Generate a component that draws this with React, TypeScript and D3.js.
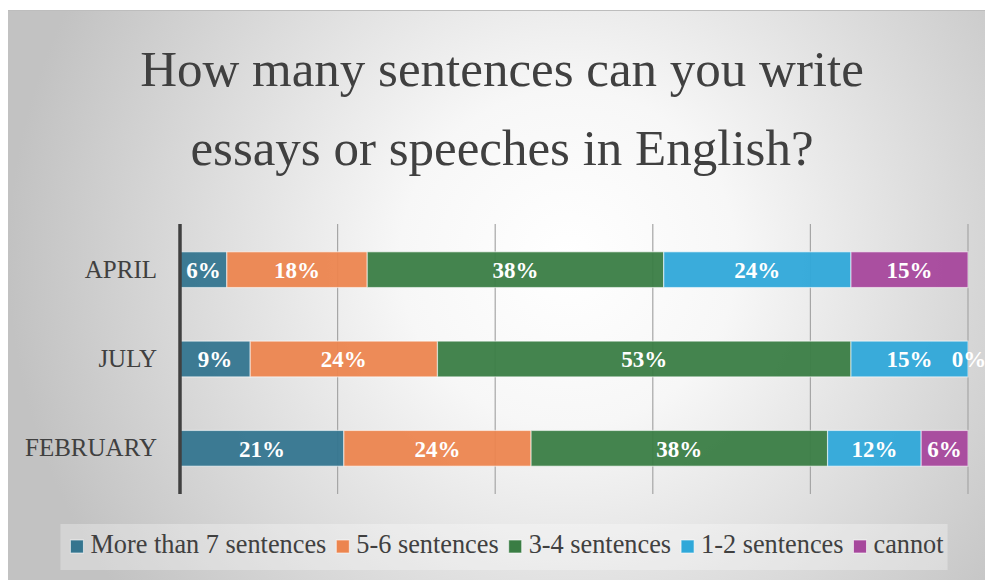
import React from "react";
import * as d3 from "d3";

// survey months, top to bottom
const months = ["APRIL", "JULY", "FEBRUARY"];
const seriesNames = ["More than 7 sentences", "5-6 sentences", "3-4 sentences", "1-2 sentences", "cannot"];
const seriesColors = ["#34758f", "#ec854f", "#3a7d44", "#2fa8d9", "#a6479c"];

// percentages as printed on the bars (rows follow months)
const moreThan7 = [6, 9, 21];
const fiveToSix = [18, 24, 24];
const threeToFour = [38, 53, 38];
const oneToTwo = [24, 15, 12];
const cannot = [15, 0, 6];

const titleLines = ["How many sentences can you write", "essays or speeches in English?"];
const gridTicks = [0, 0.2, 0.4, 0.6, 0.8, 1];

const W = 985;
const H = 580;
const FONT = "'Liberation Serif', 'Times New Roman', serif";

export default function App() {
  const svgRef = React.useRef<SVGSVGElement>(null);

  React.useEffect(() => {
    const cols = [moreThan7, fiveToSix, threeToFour, oneToTwo, cannot];
    const rows = months.map((m, i) => {
      const r: any = { month: m };
      seriesNames.forEach((s, j) => (r[s] = cols[j][i]));
      return r;
    });

    const stacked = d3.stack().keys(seriesNames).offset(d3.stackOffsetExpand)(rows);

    const x = d3.scaleLinear().domain([0, 1]).range([180, 968]);
    const y = d3.scaleBand().domain(months).range([225, 493]).paddingInner(0.6).paddingOuter(0.3);
    const color = d3.scaleOrdinal<string>().domain(seriesNames).range(seriesColors);

    const svgEl = d3.select(svgRef.current);
    svgEl.selectAll("*").remove();

    // background
    const defs = svgEl.append("defs");
    const grad = defs.append("radialGradient").attr("id", "bg")
      .attr("gradientUnits", "userSpaceOnUse")
      .attr("cx", 568).attr("cy", 258).attr("r", 560);
    grad.append("stop").attr("offset", "0%").attr("stop-color", "#ffffff");
    grad.append("stop").attr("offset", "30%").attr("stop-color", "#f7f7f7");
    grad.append("stop").attr("offset", "100%").attr("stop-color", "#c2c2c2");

    svgEl.append("rect").attr("x", 0).attr("y", 0).attr("width", W).attr("height", H).attr("fill", "#ffffff");
    svgEl.append("rect").attr("x", 8).attr("y", 10).attr("width", W - 8).attr("height", H - 10)
      .attr("fill", "url(#bg)");
    svgEl.append("line").attr("x1", 8).attr("x2", W).attr("y1", 10.5).attr("y2", 10.5)
      .attr("stroke", "#bdbdbd").attr("stroke-width", 1);

    // title
    svgEl.append("g").selectAll("text").data(titleLines).enter().append("text")
      .attr("x", 502)
      .attr("y", (d, i) => 86 + i * 79)
      .attr("text-anchor", "middle")
      .attr("font-family", FONT)
      .attr("font-size", 51)
      .attr("fill", "#404040")
      .text((d) => d);

    // gridlines
    svgEl.append("g").selectAll("line").data(gridTicks.slice(1)).enter().append("line")
      .attr("x1", (d) => x(d)).attr("x2", (d) => x(d))
      .attr("y1", 224).attr("y2", 494)
      .attr("stroke", "#a6a6a6").attr("stroke-width", 1.2);

    // bars
    const layers = svgEl.append("g").selectAll("g").data(stacked).enter().append("g")
      .attr("fill", (d) => color(d.key));

    layers.selectAll("rect").data((d) => d).enter().append("rect")
      .attr("x", (d) => x(d[0]))
      .attr("y", (d: any) => y(d.data.month)!)
      .attr("width", (d) => Math.max(0, x(d[1]) - x(d[0])))
      .attr("height", y.bandwidth())
      .attr("fill-opacity", 0.95)
      .attr("stroke", "#ffffff")
      .attr("stroke-opacity", 0.55)
      .attr("stroke-width", 1.2);

    // value labels
    stacked.forEach((layer) => {
      svgEl.append("g").selectAll("text").data(layer).enter().append("text")
        .attr("x", (d) => (x(d[0]) + x(d[1])) / 2 + (d[1] - d[0] === 0 ? 1 : 0))
        .attr("y", (d: any) => y(d.data.month)! + y.bandwidth() / 2)
        .attr("dy", "0.36em")
        .attr("text-anchor", "middle")
        .attr("font-family", FONT)
        .attr("font-size", 23)
        .attr("font-weight", "bold")
        .attr("fill", "#ffffff")
        .text((d: any) => d.data[layer.key] + "%");
    });

    // category axis
    const yAxis = d3.axisLeft(y).tickSize(0).tickPadding(23);
    const ax = svgEl.append("g").attr("transform", `translate(${x(0)},0)`).call(yAxis);
    ax.select(".domain").remove();
    ax.selectAll("text")
      .attr("font-family", FONT)
      .attr("font-size", 25)
      .attr("fill", "#404040");
    svgEl.append("line").attr("x1", x(0)).attr("x2", x(0)).attr("y1", 224).attr("y2", 494)
      .attr("stroke", "#404040").attr("stroke-width", 3.5);

    // legend
    const leg = svgEl.append("g");
    const legBg = leg.append("rect").attr("y", 524).attr("height", 46)
      .attr("fill", "#ffffff").attr("fill-opacity", 0.3);
    const items = leg.selectAll("g").data(seriesNames).enter().append("g");
    items.append("rect").attr("width", 13).attr("height", 13).attr("y", 540)
      .attr("fill", (d) => color(d)).attr("stroke", "#ffffff").attr("stroke-opacity", 0.6);
    const labels = items.append("text").attr("y", 553)
      .attr("font-family", FONT).attr("font-size", 26.3).attr("fill", "#404040")
      .text((d) => d);
    const widths: number[] = [];
    labels.each(function () { widths.push((this as SVGTextElement).getComputedTextLength()); });
    const gap = 10, sw = 13, tp = 7;
    const total = d3.sum(widths) + seriesNames.length * (sw + tp) + (seriesNames.length - 1) * gap;
    let cx = 507 - total / 2;
    items.each(function (d, i) {
      const g = d3.select(this);
      g.select("rect").attr("x", cx);
      g.select("text").attr("x", cx + sw + tp);
      cx += sw + tp + widths[i] + gap;
    });
    legBg.attr("x", 507 - total / 2 - 10).attr("width", total + 14);
  }, []);

  return (
    <svg
      ref={svgRef}
      width={W}
      height={H}
      style={{ position: "fixed", left: 0, top: 0, display: "block" }}
    />
  );
}
